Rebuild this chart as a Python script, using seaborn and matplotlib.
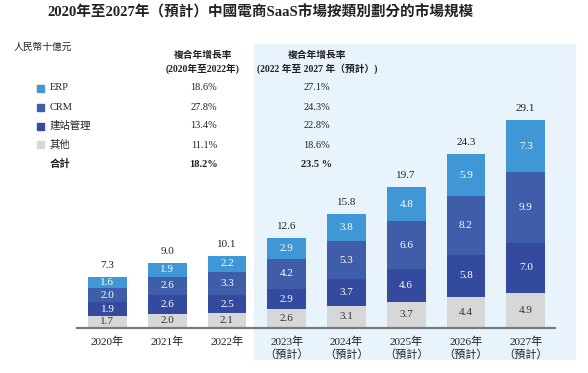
import pandas as pd
import seaborn as sns
import matplotlib.pyplot as plt
from matplotlib.patches import Rectangle

# 數據 (人民幣十億元)
years = ['2020年', '2021年', '2022年', '2023年\n（預計）', '2024年\n（預計）',
         '2025年\n（預計）', '2026年\n（預計）', '2027年\n（預計）']
erp = [1.6, 1.9, 2.2, 2.9, 3.8, 4.8, 5.9, 7.3]
crm = [2.0, 2.6, 3.3, 4.2, 5.3, 6.6, 8.2, 9.9]
site = [1.9, 2.6, 2.5, 2.9, 3.7, 4.6, 5.8, 7.0]
other = [1.7, 2.0, 2.1, 2.6, 3.1, 3.7, 4.4, 4.9]
totals = [7.3, 9.0, 10.1, 12.6, 15.8, 19.7, 24.3, 29.1]

legend_labels = ['ERP', 'CRM', '建站管理', '其他', '合計']
cagr_hist = ['18.6%', '27.8%', '13.4%', '11.1%', '18.2%']
cagr_fcst = ['27.1%', '24.3%', '22.8%', '18.6%', '23.5 %']

c_erp = '#3F98D5'
c_crm = '#3F5DA9'
c_site = '#344A9F'
c_other = '#D6D7D9'
colors = [c_erp, c_crm, c_site, c_other]

sns.set_style('white')
plt.rcParams['font.family'] = ['Liberation Serif', 'Noto Sans CJK TC']

W, H = 588, 373
fx = lambda px: px / W
fy = lambda py: 1 - py / H

fig = plt.figure(figsize=(5.88, 3.73), dpi=100)
# 淺藍色背景 (預測期)
fig.patches.append(Rectangle((fx(254), fy(359)), fx(575) - fx(254), fy(44) - fy(359),
                             transform=fig.transFigure, color='#E8F3FB', zorder=-1))

ax = fig.add_axes([fx(77), fy(328), fx(555) - fx(77), fy(44) - fy(328)])
ax.set_facecolor('none')

df = pd.DataFrame({'year': years, 'erp': erp, 'crm': crm, 'site': site, 'other': other})
df['c_other'] = df['other']
df['c_site'] = df['c_other'] + df['site']
df['c_crm'] = df['c_site'] + df['crm']
df['c_erp'] = df['c_crm'] + df['erp']

# 疊加繪製堆疊柱
for col, c in zip(['c_erp', 'c_crm', 'c_site', 'c_other'], colors):
    sns.barplot(data=df, x='year', y=col, color=c, width=0.65, saturation=1,
                linewidth=0, ax=ax)

# 柱內數值
for i in range(len(years)):
    segs = [(other[i], 0, '#333333'),
            (site[i], df['c_other'][i], 'white'),
            (crm[i], df['c_site'][i], 'white'),
            (erp[i], df['c_crm'][i], 'white')]
    for v, b, tc in segs:
        ax.text(i, b + v / 2, f'{v:.1f}', ha='center', va='center', color=tc, fontsize=8)
    ax.annotate(f'{totals[i]:.1f}', (i, df['c_erp'][i]), xytext=(0, 5),
                textcoords='offset points', ha='center', va='bottom', fontsize=8, color='#222222')

ax.set_xlim(-0.51, 7.49)
ax.set_ylim(0, 284 / 7.15)
ax.set_xlabel('')
ax.set_ylabel('')
ax.set_yticks([])
ax.set_xticks(range(len(years)))
ax.set_xticklabels(years, fontsize=8, linespacing=1.3, color='#222222')
ax.tick_params(axis='x', length=0, pad=6)
for s in ['top', 'left', 'right']:
    ax.spines[s].set_visible(False)
ax.spines['bottom'].set_color('#7A7A7A')
ax.spines['bottom'].set_linewidth(1.6)

# 標題及說明
fig.text(fx(261), fy(12), '2020年至2027年（預計）中國電商SaaS市場按類別劃分的市場規模',
         ha='center', va='center', fontsize=10.5, fontweight='bold', color='#222222')
fig.text(fx(14), fy(47), '人民幣十億元', ha='left', va='center', fontsize=7, color='#222222')

fig.text(fx(203), fy(55), '複合年增長率', ha='center', va='center', fontsize=7,
         fontweight='bold', color='#222222')
fig.text(fx(203), fy(69), '(2020年至2022年)', ha='center', va='center', fontsize=7,
         fontweight='bold', color='#222222')
fig.text(fx(317), fy(55), '複合年增長率', ha='center', va='center', fontsize=7,
         fontweight='bold', color='#222222')
fig.text(fx(317), fy(69), '(2022 年至 2027 年（預計）)', ha='center', va='center', fontsize=7,
         fontweight='bold', color='#222222')

# 圖例及複合年增長率表
rows_y = [88, 107, 126, 145, 164]
for k, y in enumerate(rows_y):
    bold = 'bold' if k == 4 else 'normal'
    if k < 4:
        fig.patches.append(Rectangle((fx(37), fy(y + 3.5)), fx(7), 7 / H,
                                     transform=fig.transFigure, color=colors[k]))
    fig.text(fx(50), fy(y), legend_labels[k], ha='left', va='center', fontsize=7.5,
             fontweight=bold, color='#222222')
    fig.text(fx(204), fy(y), cagr_hist[k], ha='center', va='center', fontsize=7.5,
             fontweight=bold, color='#222222')
    fig.text(fx(317), fy(y), cagr_fcst[k], ha='center', va='center', fontsize=7.5,
             fontweight=bold, color='#222222')

fig.savefig('out.png', dpi=100)
